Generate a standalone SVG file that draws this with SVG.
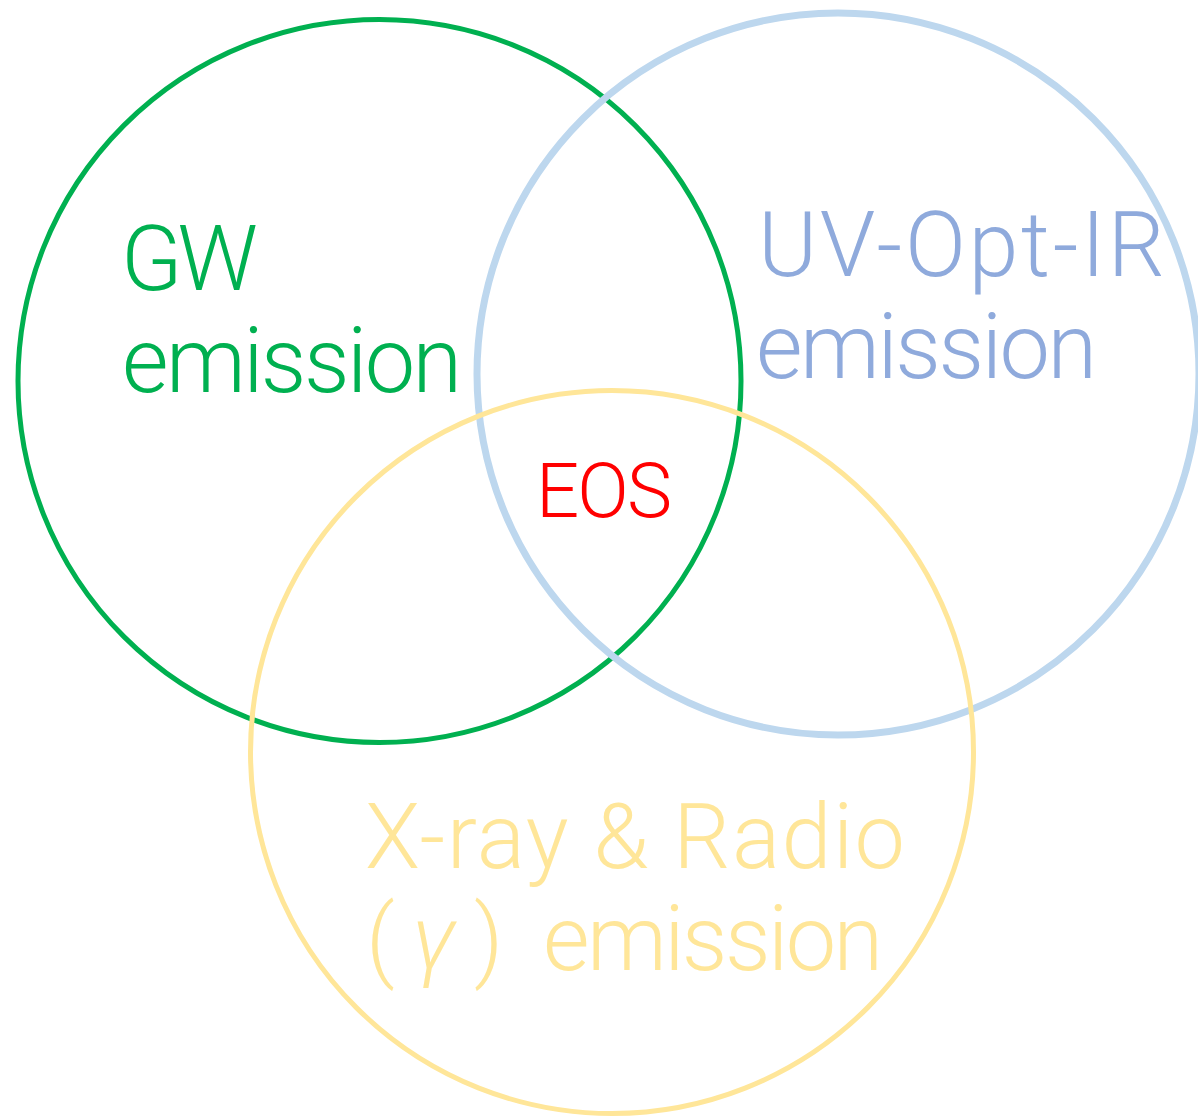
<svg xmlns="http://www.w3.org/2000/svg" width="1198" height="1118" viewBox="0 0 1198 1118">
<style>
.c{fill:none}
.t{font-family:Roboto,"Noto Sans CJK JP",sans-serif;font-weight:300;font-size:90px}
.e{font-size:76px}
.g{font-style:italic}
</style>
<rect width="1198" height="1118" fill="#fff"/>
<g id="gw">
<circle class="c" cx="379.5" cy="381" r="361.5" stroke="#00B050" stroke-width="5"/>
<text class="t" fill="#00B050" x="121" y="290" textLength="137" lengthAdjust="spacing">GW</text>
<text class="t" fill="#00B050" x="122" y="392" textLength="340" lengthAdjust="spacing">emission</text>
</g>
<g id="uv">
<circle class="c" cx="838" cy="374" r="361" stroke="#BDD7EE" stroke-width="7"/>
<text class="t" fill="#8FAADC" x="758" y="276" textLength="407" lengthAdjust="spacing">UV-Opt-IR</text>
<text class="t" fill="#8FAADC" x="756" y="378" textLength="341" lengthAdjust="spacing">emission</text>
</g>
<g id="xray">
<circle class="c" cx="612" cy="752" r="361.5" stroke="#FFE699" stroke-width="5"/>
<text class="t" fill="#FFE699" x="365" y="868" textLength="540" lengthAdjust="spacing">X-ray &amp; Radio</text>
<text class="t" fill="#FFE699" y="970"><tspan x="366">(</tspan><tspan class="g" x="412">γ</tspan><tspan x="474">)</tspan><tspan x="543" textLength="340" lengthAdjust="spacing">emission</tspan></text>
</g>
<g id="eos">
<text class="t e" fill="#FF0000" x="536" y="517" textLength="136" lengthAdjust="spacing">EOS</text>
</g>
<g id="connectors"/>
</svg>
